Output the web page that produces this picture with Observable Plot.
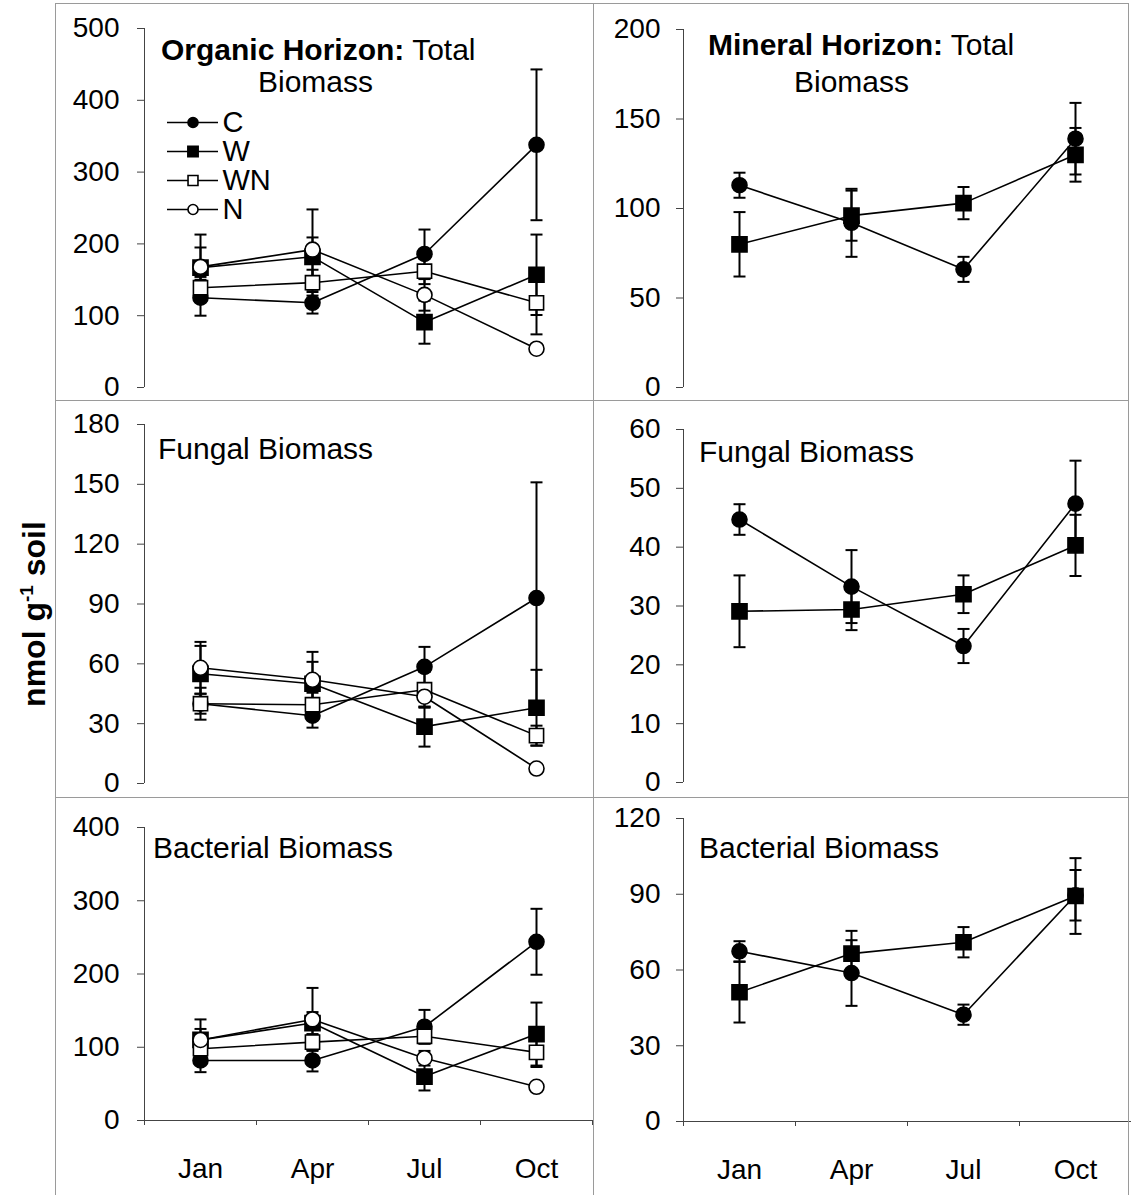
<!DOCTYPE html>
<html><head><meta charset="utf-8">
<script src="https://cdn.jsdelivr.net/npm/d3@7"></script>
<script src="https://cdn.jsdelivr.net/npm/@observablehq/plot@0.6"></script>
<style>
body{margin:0;background:#fff;font-family:"Liberation Sans",Arial,sans-serif;}
#wrap{position:relative;width:1131px;height:1195px;overflow:hidden;background:#fff;}
.pan{position:absolute;}
.ttl{position:absolute;font-size:30px;line-height:30px;white-space:nowrap;color:#000;}
.bd{position:absolute;background:#9a9a9a;}
#ylab{position:absolute;left:34px;top:614px;transform:translate(-50%,-50%) rotate(-90deg);font-weight:bold;font-size:32px;white-space:nowrap;}
</style></head><body><div id="wrap"></div>
<script>
const months = ["Jan", "Apr", "Jul", "Oct"];
const series = ["C", "W", "WN", "N"];

// Organic horizon: total biomass
const orgTotC = [125, 118, 186, 338];   const orgTotCErr = [25, 15, 34, 105];
const orgTotW = [167, 182, 91, 157];    const orgTotWErr = [28, 27, 30, 56];
const orgTotWN = [139, 146, 162, 118];  const orgTotWNErr = [15, 18, 18, 44];
const orgTotN = [168, 192, 129, 54];    const orgTotNErr = [45, 56, 22, 4];
// Mineral horizon: total biomass
const minTotC = [113, 92, 66, 139];     const minTotCErr = [7, 19, 7, 20];
const minTotW = [80, 96, 103, 130];     const minTotWErr = [18, 14, 9, 15];
// Organic: fungal
const orgFunC = [40, 34, 58.5, 93];     const orgFunCErr = [8, 6, 10, 58];
const orgFunW = [55, 50, 28.5, 38];     const orgFunWErr = [14, 11, 10, 19];
const orgFunWN = [40, 39.5, 47, 24];    const orgFunWNErr = [5, 6, 9, 5];
const orgFunN = [58, 52, 43.5, 7.5];    const orgFunNErr = [13, 14, 5, 2];
// Mineral: fungal
const minFunC = [44.7, 33.3, 23.2, 47.4]; const minFunCErr = [2.6, 6.2, 2.9, 7.3];
const minFunW = [29.1, 29.4, 32, 40.3];   const minFunWErr = [6.1, 3.5, 3.2, 5.2];
// Organic: bacterial
const orgBacC = [82, 82, 128, 244];     const orgBacCErr = [16, 15, 23, 45];
const orgBacW = [110, 133, 60, 118];    const orgBacWErr = [15, 15, 19, 43];
const orgBacWN = [98, 107, 115, 93];    const orgBacWNErr = [10, 10, 10, 20];
const orgBacN = [110, 138, 85, 46];     const orgBacNErr = [28, 43, 10, 5];
// Mineral: bacterial
const minBacC = [67.4, 58.8, 42.3, 89.6]; const minBacCErr = [4, 13, 4, 10];
const minBacW = [51.2, 66.5, 71, 89.3];   const minBacWErr = [12, 9, 6, 15];

// y tick labels
const ticksOrgTot = [0, 100, 200, 300, 400, 500];
const ticksMinTot = [0, 50, 100, 150, 200];
const ticksOrgFun = [0, 30, 60, 90, 120, 150, 180];
const ticksMinFun = [0, 10, 20, 30, 40, 50, 60];
const ticksOrgBac = [0, 100, 200, 300, 400];
const ticksMinBac = [0, 30, 60, 90, 120];

const symStyle = {
  C:  {symbol: "circle", fill: "black", stroke: "black", r: 7.5, lr: 5},
  W:  {symbol: "square", fill: "black", stroke: "black", r: 8.5, lr: 5.8},
  WN: {symbol: "square", fill: "white", stroke: "black", r: 8, lr: 5.6},
  N:  {symbol: "circle", fill: "white", stroke: "black", r: 7.5, lr: 5}
};
const capSym = {draw(ctx) { ctx.moveTo(-6, 0); ctx.lineTo(6, 0); }};

const wrap = document.getElementById("wrap");

function panel(cfg) {
  const rows = [];
  cfg.data.forEach(([s, vals, errs]) => vals.forEach((v, i) => rows.push({s, m: i, v, e: errs[i]})));
  const max = cfg.ticks[cfg.ticks.length - 1];
  const marks = [
    Plot.ruleX([-0.5], {y1: 0, y2: max, stroke: "#444", strokeWidth: 1}),
    Plot.axisY({ticks: cfg.ticks, tickSize: 7, tickPadding: cfg.pad, fontSize: 28, stroke: "#444", label: null})
  ];
  if (cfg.xaxis) {
    marks.push(
      Plot.ruleY([0], {x1: -0.5, x2: 3.5, stroke: "#444", strokeWidth: 1}),
      Plot.axisX({ticks: [-0.5, 0.5, 1.5, 2.5, 3.5], tickSize: 5, tickFormat: () => "", stroke: "#444", label: null}),
      Plot.axisX({ticks: [0, 1, 2, 3], tickSize: 0, tickPadding: 38, tickFormat: (i) => months[i], fontSize: 28, label: null})
    );
  }
  marks.push(
    Plot.line(rows, {x: "m", y: "v", z: "s", stroke: "black", strokeWidth: 1.6}),
    Plot.ruleX(rows, {x: "m", y1: (d) => d.v - d.e, y2: (d) => d.v + d.e, stroke: "black", strokeWidth: 2}),
    Plot.dot(rows, {x: "m", y: (d) => d.v + d.e, symbol: capSym, fill: "none", stroke: "black", strokeWidth: 2}),
    Plot.dot(rows, {x: "m", y: (d) => d.v - d.e, symbol: capSym, fill: "none", stroke: "black", strokeWidth: 2})
  );
  cfg.data.forEach(([s]) => {
    const st = symStyle[s];
    marks.push(Plot.dot(rows.filter((d) => d.s === s), {x: "m", y: "v", symbol: st.symbol, fill: st.fill, stroke: st.stroke, r: st.r, strokeWidth: 1.6}));
  });
  const p = Plot.plot({
    width: 538, height: cfg.height,
    marginLeft: cfg.ml, marginRight: cfg.mr, marginTop: cfg.mt, marginBottom: cfg.mb,
    x: {domain: [-0.5, 3.5], axis: null},
    y: {domain: [0, max], label: null},
    style: {fontFamily: "Liberation Sans, Arial, sans-serif", fontSize: "28px", overflow: "visible", background: "transparent", color: "#000"},
    marks
  });
  p.classList.add("pan");
  p.style.left = cfg.left + "px";
  p.style.top = cfg.top + "px";
  wrap.appendChild(p);
}

panel({left: 55, top: 3, height: 397, ml: 89, mr: 1, mt: 25, mb: 13, pad: 18, ticks: ticksOrgTot,
  data: [["C", orgTotC, orgTotCErr], ["W", orgTotW, orgTotWErr], ["WN", orgTotWN, orgTotWNErr], ["N", orgTotN, orgTotNErr]]});
panel({left: 593, top: 3, height: 397, ml: 90, mr: 0, mt: 26, mb: 13, pad: 16, ticks: ticksMinTot,
  data: [["C", minTotC, minTotCErr], ["W", minTotW, minTotWErr]]});
panel({left: 55, top: 400, height: 397, ml: 89, mr: 1, mt: 24, mb: 14, pad: 18, ticks: ticksOrgFun,
  data: [["C", orgFunC, orgFunCErr], ["W", orgFunW, orgFunWErr], ["WN", orgFunWN, orgFunWNErr], ["N", orgFunN, orgFunNErr]]});
panel({left: 593, top: 400, height: 397, ml: 90, mr: 0, mt: 29, mb: 15, pad: 16, ticks: ticksMinFun,
  data: [["C", minFunC, minFunCErr], ["W", minFunW, minFunWErr]]});
panel({left: 55, top: 797, height: 398, ml: 89, mr: 1, mt: 30, mb: 75, pad: 18, ticks: ticksOrgBac, xaxis: true,
  data: [["C", orgBacC, orgBacCErr], ["W", orgBacW, orgBacWErr], ["WN", orgBacWN, orgBacWNErr], ["N", orgBacN, orgBacNErr]]});
panel({left: 593, top: 797, height: 398, ml: 90, mr: 0, mt: 21, mb: 74, pad: 16, ticks: ticksMinBac, xaxis: true,
  data: [["C", minBacC, minBacCErr], ["W", minBacW, minBacWErr]]});

// legend
const legendMarks = [
  Plot.ruleY(series, {y: (d) => d, x1: 0, x2: 1, stroke: "black", strokeWidth: 1.6})
];
series.forEach((s) => {
  const st = symStyle[s];
  legendMarks.push(Plot.dot([s], {x: 0.5, y: (d) => d, symbol: st.symbol, fill: st.fill, stroke: st.stroke, r: st.lr, strokeWidth: 1.6}));
});
legendMarks.push(Plot.text(series, {x: 1, y: (d) => d, text: (d) => d, textAnchor: "start", dx: 4, fontSize: 29}));
const leg = Plot.plot({
  width: 110, height: 117, marginTop: 15, marginBottom: 15, marginLeft: 7, marginRight: 52,
  x: {domain: [0, 1], axis: null},
  y: {type: "point", domain: series, padding: 0, axis: null},
  style: {fontFamily: "Liberation Sans, Arial, sans-serif", overflow: "visible", background: "transparent", color: "#000"},
  marks: legendMarks
});
leg.classList.add("pan");
leg.style.left = "160px";
leg.style.top = "107px";
wrap.appendChild(leg);

// titles
const titles = [
  ["<b>Organic Horizon:</b> Total", 161, 35],
  ["Biomass", 258, 67],
  ["<b>Mineral Horizon:</b> Total", 708, 30],
  ["Biomass", 794, 67],
  ["Fungal Biomass", 158, 434],
  ["Fungal Biomass", 699, 437],
  ["Bacterial Biomass", 153, 833],
  ["Bacterial Biomass", 699, 833]
];
titles.forEach(([t, x, y]) => {
  const d = document.createElement("div");
  d.className = "ttl"; d.innerHTML = t; d.style.left = x + "px"; d.style.top = y + "px";
  wrap.appendChild(d);
});

// panel frame lines
[[55, 3, 1, 1192], [593, 3, 1, 1192], [1128, 3, 1, 1192], [55, 3, 1074, 1], [55, 400, 1074, 1], [55, 797, 1074, 1]].forEach(([x, y, w, h]) => {
  const d = document.createElement("div");
  d.className = "bd";
  Object.assign(d.style, {left: x + "px", top: y + "px", width: w + "px", height: h + "px"});
  wrap.appendChild(d);
});

const yl = document.createElement("div");
yl.id = "ylab";
yl.innerHTML = "nmol g<sup style='font-size:19px'>-1</sup> soil";
wrap.appendChild(yl);
</script>
</body></html>
